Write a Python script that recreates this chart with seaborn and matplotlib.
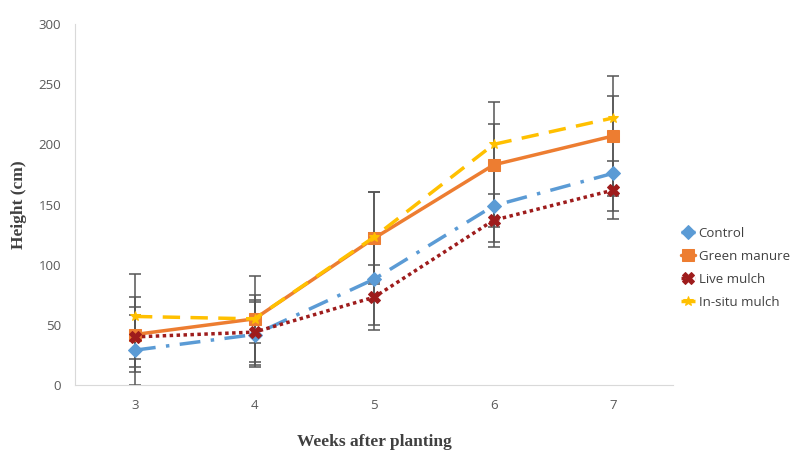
import matplotlib
matplotlib.use("Agg")
import matplotlib.pyplot as plt
import seaborn as sns
import pandas as pd
import numpy as np

weeks = [3, 4, 5, 6, 7]
control = [29, 42, 88, 149, 176]
green_manure = [42, 55, 122, 183, 207]
live_mulch = [40, 44, 73, 137, 162]
in_situ = [57, 55, 123, 200, 222]

err_control = [29, 27, 38, 30, 31]
err_green = [31, 36, 38, 52, 50]
err_live = [25, 27, 27, 22, 24]
err_insitu = [35, 20, 37, 17, 18]

series = [
    ("Control", control, err_control, "#5B9BD5", (0, (6, 3, 1, 3)), "D", 7),
    ("Green manure", green_manure, err_green, "#ED7D31", "-", "s", 8),
    ("Live mulch", live_mulch, err_live, "#9E1C1C", (0, (1, 1)), "X", 8),
    ("In-situ mulch", in_situ, err_insitu, "#FFC000", (0, (5, 3)), "*", 7),
]

sns.set_style("white")
fig = plt.figure(figsize=(7.91, 4.53), dpi=100)
ax = fig.add_axes([0.095, 0.15, 0.756, 0.797])

for name, vals, errs, color, ls, mk, ms in series:
    ax.errorbar(weeks, vals, yerr=errs, fmt="none", ecolor="#555555",
                elinewidth=1.1, capsize=4, capthick=1.1, zorder=1)

for name, vals, errs, color, ls, mk, ms in series:
    df = pd.DataFrame({"week": weeks, "height": vals})
    sns.lineplot(data=df, x="week", y="height", ax=ax, color=color,
                 linestyle=ls, linewidth=2.5, marker=mk, markersize=ms,
                 markeredgecolor=color, label=name, zorder=3)

ax.set_xlim(2.5, 7.5)
ax.set_ylim(0, 300)
ax.set_xticks(weeks)
ax.set_xticklabels([str(w) for w in weeks])
ax.set_yticks([0, 50, 100, 150, 200, 250, 300])
ax.tick_params(axis="both", colors="#595959", labelsize=9.5, length=0, pad=10)
for lab in ax.get_xticklabels() + ax.get_yticklabels():
    lab.set_fontfamily("Open Sans")

for s in ["top", "right"]:
    ax.spines[s].set_visible(False)
ax.spines["left"].set_color("#D9D9D9")
ax.spines["bottom"].set_color("#D9D9D9")

ax.set_xlabel("Weeks after planting", fontfamily="Liberation Serif",
              fontweight="bold", fontsize=12.5, color="#404040", labelpad=16)
ax.set_ylabel("Height (cm)", fontfamily="Liberation Serif",
              fontweight="bold", fontsize=12.5, color="#404040", labelpad=8)

leg = ax.legend(loc="center left", bbox_to_anchor=(1.005, 0.325), frameon=False,
                prop={"family": "Open Sans", "size": 9.5}, handlelength=1.0,
                handletextpad=0.3, labelspacing=0.75, borderaxespad=0)
for t in leg.get_texts():
    t.set_color("#404040")

fig.savefig("out.png", dpi=100)
